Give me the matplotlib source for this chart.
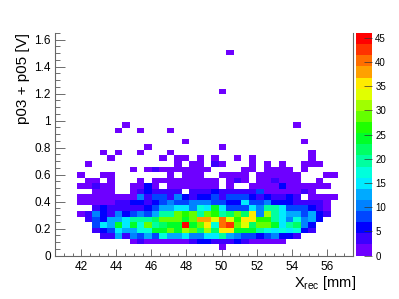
import numpy as np
import matplotlib
matplotlib.use("Agg")
import matplotlib.pyplot as plt
from matplotlib.colors import ListedColormap, BoundaryNorm
from matplotlib.ticker import MultipleLocator, FormatStrFormatter

plt.rcParams['font.family'] = ['Liberation Sans', 'DejaVu Sans']
plt.rcParams['mathtext.fontset'] = 'custom'
plt.rcParams['mathtext.rm'] = 'Liberation Sans'
plt.rcParams['mathtext.default'] = 'rm'

x_range = (40.5, 57.5)
y_range = (0, 1.65)
z_max = 46
n_bins = 40

# single low-count cells, row (from the top) -> columns
sparse = {
    3: [23],
    10: [22],
    16: [9, 32],
    17: [8, 11, 15],
    19: [17, 33],
    20: [12, 22],
    21: [6, 8, 11, 15, 34],
    22: [7, 14, 16, 17, 19, 21, 24, 26, 34],
    23: [4, 16, 18, 19, 21, 22, 26, 28, 30, 33, 34, 35],
    24: [10, 12, 13, 14, 15, 16, 17, 18, 19, 20, 25, 26, 28, 29, 30, 31, 33],
    25: [3, 6, 7, 15, 17, 18, 19, 22, 23, 24, 25, 27, 28, 29, 30, 31, 32, 36, 37],
    26: [4, 5, 7, 11, 13, 14, 15, 16, 17, 18, 19, 20, 21, 23, 24, 25, 27, 28, 29, 30, 31, 32, 35],
    27: [3, 4, 5, 6, 7, 10, 11, 12, 13, 15, 16, 17, 18, 19, 20, 21, 23, 26, 27, 28, 29, 30, 31, 32, 33, 34, 35, 36],
    38: [22],
}
# the few of those that are a bit higher: (row, col, count)
darker = [(23, 21, 3), (24, 13, 3), (26, 24, 4), (26, 29, 3), (27, 12, 5), (27, 5, 3), (27, 30, 5)]

# dense rows, row -> first column, counts
row28 = (5, [2, 2, 2, 0, 0, 2, 3, 5, 3, 3, 3, 3, 0, 3, 3, 4, 5, 3, 3, 3, 4, 4, 8, 2, 2, 2, 2, 2, 3, 2])
row29 = (3, [2, 2, 2, 2, 2, 2, 2, 2, 10, 4, 8, 7, 4, 11, 5, 4, 5, 6, 7, 3, 8, 8, 8, 5, 4, 6, 4, 4, 5, 3, 0, 2, 2, 2, 2])
row30 = (3, [2, 2, 2, 2, 2, 3, 3, 5, 5, 4, 5, 9, 11, 9, 7, 10, 10, 10, 9, 8, 6, 6, 15, 7, 8, 11, 5, 6, 6, 3, 3, 3, 3, 2])
row31 = (5, [4, 5, 3, 3, 3, 4, 3, 5, 9, 12, 13, 15, 15, 10, 18, 15, 24, 16, 8, 8, 8, 15, 11, 20, 19, 15, 9, 7, 7, 6, 3, 2])
row32 = (3, [2, 4, 11, 6, 3, 11, 5, 9, 10, 9, 12, 20, 20, 29, 26, 29, 19, 28, 26, 20, 22, 29, 22, 36, 11, 30, 20, 15, 12, 12, 9, 13, 6, 3])
row33 = (4, [4, 8, 6, 13, 12, 15, 20, 20, 20, 21, 29, 29, 29, 24, 29, 38, 38, 33, 41, 33, 27, 35, 36, 26, 26, 20, 15, 11, 18, 10, 13, 5])
row34 = (5, [8, 15, 13, 24, 16, 25, 18, 29, 19, 22, 23, 25, 45, 24, 29, 35, 17, 40, 43, 29, 33, 21, 29, 28, 24, 15, 19, 21, 10, 5])
row35 = (5, [3, 6, 8, 15, 13, 12, 17, 17, 24, 24, 29, 25, 30, 28, 22, 31, 21, 36, 35, 24, 24, 25, 20, 17, 16, 18, 15, 18, 5, 4])
row36 = (6, [3, 4, 13, 4, 10, 8, 12, 8, 18, 12, 13, 15, 10, 10, 15, 14, 20, 12, 11, 8, 8, 6, 8, 10, 6, 6, 3])
row37 = (10, [2, 3, 2, 2, 2, 2, 2, 2, 3, 5, 5, 3, 4, 3, 5, 3, 2, 2, 2, 2, 2])
dense = {28: row28, 29: row29, 30: row30, 31: row31, 32: row32,
         33: row33, 34: row34, 35: row35, 36: row36, 37: row37}

palette = ['#6e00ff', '#3c00ff', '#0000ff', '#0046ff', '#0082ff', '#00aaff', '#00ebff',
           '#00ffdc', '#00ffa0', '#00ff64', '#00ff28', '#1eff00', '#64ff00', '#a0ff00',
           '#e1ff00', '#ffeb00', '#ffa000', '#ff6e00', '#ff3200', '#ff0000']
cbar_ticks = [0, 5, 10, 15, 20, 25, 30, 35, 40, 45]

counts = np.zeros((n_bins, n_bins))
for r, cols in sparse.items():
    counts[r, cols] = 2
for r, c, v in darker:
    counts[r, c] = v
for r, (start, vals) in dense.items():
    counts[r, start:start + len(vals)] = vals

xedges = np.linspace(x_range[0], x_range[1], n_bins + 1)
yedges = np.linspace(y_range[1], y_range[0], n_bins + 1)
levels = np.linspace(0, z_max, len(palette) + 1)
cmap = ListedColormap(palette)
norm = BoundaryNorm(levels, cmap.N)

fig = plt.figure(figsize=(3.99, 2.99), dpi=100)
ax = fig.add_axes([55 / 399, (299 - 255.5) / 299, 298 / 399, 222.5 / 299])
mesh = ax.pcolormesh(xedges, yedges, np.ma.masked_equal(counts, 0), cmap=cmap, norm=norm)

ax.set_xlim(*x_range)
ax.set_ylim(*y_range)
ax.spines['top'].set_visible(False)
for s in ax.spines.values():
    s.set_color('#666666')
    s.set_linewidth(0.8)

ax.xaxis.set_major_locator(MultipleLocator(2))
ax.xaxis.set_minor_locator(MultipleLocator(0.5))
ax.yaxis.set_major_locator(MultipleLocator(0.2))
ax.yaxis.set_minor_locator(MultipleLocator(0.05))
ax.yaxis.set_major_formatter(FormatStrFormatter('%g'))
ax.tick_params(axis='x', which='major', direction='in', length=5, width=0.6, color='#555555', labelsize=8.5, pad=4)
ax.tick_params(axis='x', which='minor', direction='in', length=2.5, width=0.6, color='#555555')
ax.tick_params(axis='y', which='major', direction='in', length=7, width=0.6, color='#555555', labelsize=8.5, pad=3)
ax.tick_params(axis='y', which='minor', direction='in', length=3.5, width=0.6, color='#555555')

ax.set_xlabel(r'X$_{\mathrm{rec}}$ [mm]', fontsize=10.5, ha='right', x=(356 - 55) / 298, labelpad=1)
ax.set_ylabel('p03 + p05 [V]', fontsize=11, loc='top', labelpad=3)

cax = fig.add_axes([355.5 / 399, (299 - 255.5) / 299, 17 / 399, 222.5 / 299])
cb = fig.colorbar(mesh, cax=cax, spacing='proportional', ticks=cbar_ticks, drawedges=False)
cb.outline.set_visible(False)
cax.tick_params(direction='in', length=6, width=0.5, color='#333333', labelsize=7, pad=2)
cax.minorticks_off()

fig.savefig('out.png', dpi=100)
